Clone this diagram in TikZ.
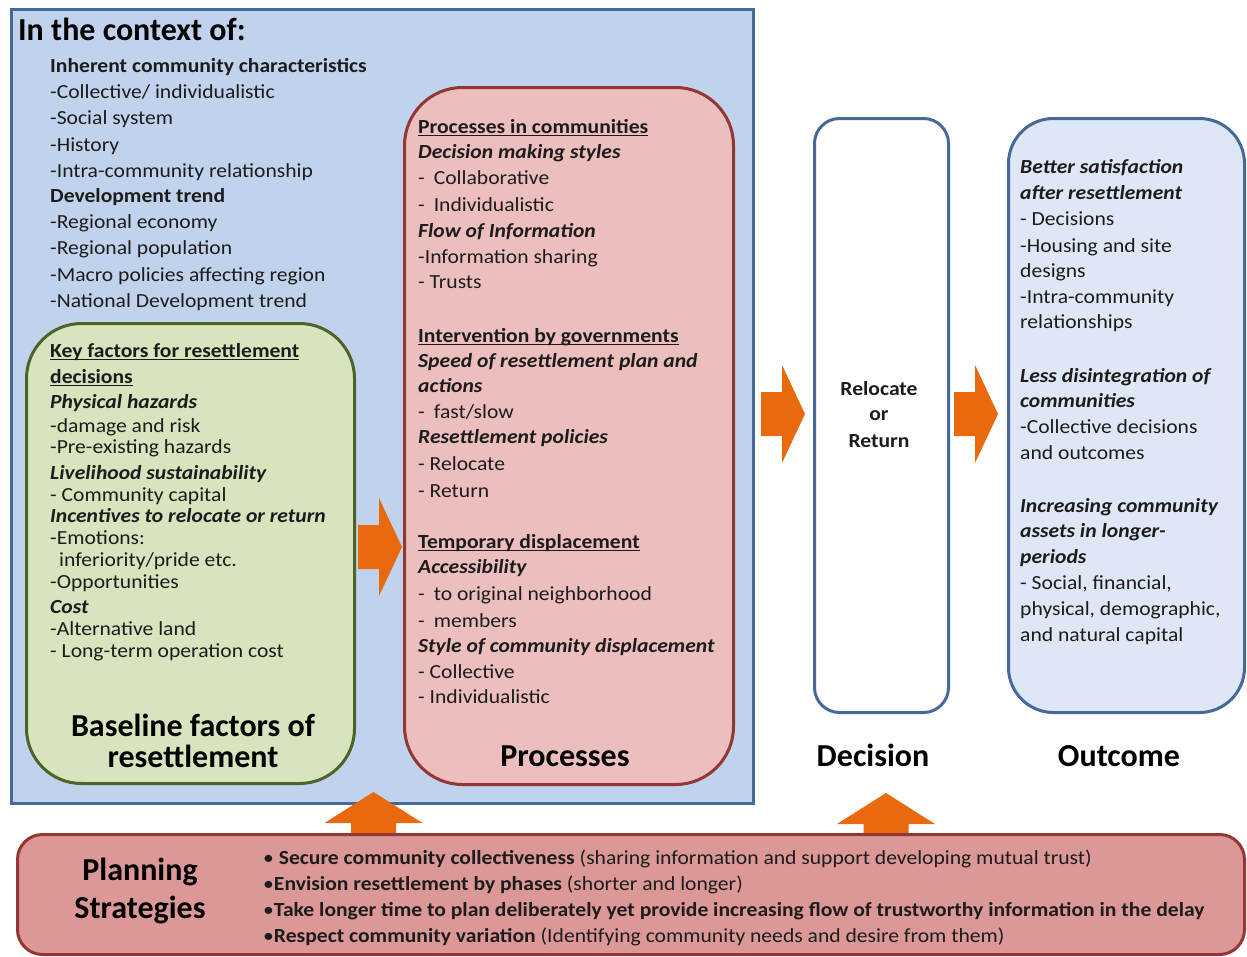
\documentclass[tikz,border=0pt]{standalone}
\usepackage{fontspec}
\setmainfont{Carlito}
% body text is set slightly wider than the headings
\newfontfamily\bodyfont{Carlito}[FakeStretch=1.08]

\definecolor{ctxfill}{RGB}{193,211,236}
\definecolor{frameblue}{RGB}{70,104,154}
\definecolor{greenfill}{RGB}{215,228,189}
\definecolor{greenline}{RGB}{79,98,40}
\definecolor{pinkfill}{RGB}{237,190,190}
\definecolor{redline}{RGB}{148,54,52}
\definecolor{outfill}{RGB}{222,231,245}
\definecolor{planfill}{RGB}{220,152,150}
\definecolor{arroworange}{RGB}{232,106,12}
\definecolor{inkdark}{RGB}{28,28,28}

% bold, bold italic and a heavier underline for headings
\newcommand\bfx[1]{\textbf{#1}}
\newcommand\bix[1]{\textbf{\textit{#1}}}
\newcommand\ulx[1]{\sbox0{\textbf{#1}}\rlap{\rule[-3pt]{\wd0}{1.3pt}}\usebox0}

\tikzset{
  txt/.style={anchor=base west, inner sep=0pt, font=\bodyfont\fontsize{20}{24}\selectfont, text=inkdark},
  big/.style={anchor=base, inner sep=0pt, font=\fontsize{32}{36}\selectfont\bfseries, text=black},
  panel/.style={anchor=north west, inner sep=0pt, line width=3pt},
  rarrow/.pic={\fill[arroworange] (0,-22) -- (21,-22) -- (21,-49) -- (44,0) -- (21,49) -- (21,22) -- (0,22) -- cycle;},
  uarrow/.pic={\fill[arroworange] (0,0) -- (49,31) -- (22.5,31) -- (22.5,44) -- (-22.5,44) -- (-22.5,31) -- (-49,31) -- cycle;}
}

\begin{document}
\begin{tikzpicture}[x=1pt,y=-1pt]
\useasboundingbox (0,0) rectangle (1247,956);

% context frame and inner panels
\node[panel, draw=frameblue, fill=ctxfill, minimum width=742pt, minimum height=794pt] (ctx) at (10,8) {};
\node[panel, draw=greenline, fill=greenfill, rounded corners=55pt, minimum width=328pt, minimum height=460pt] (base) at (25,322) {};
\node[panel, draw=redline, fill=pinkfill, rounded corners=58pt, minimum width=329pt, minimum height=697pt] (proc) at (403,86) {};
\node[panel, draw=frameblue, fill=white, rounded corners=25pt, minimum width=134pt, minimum height=594pt] (dec) at (813,117) {};
\node[panel, draw=frameblue, fill=outfill, rounded corners=45pt, minimum width=236pt, minimum height=594pt] (out) at (1007,117) {};

% block arrows
\pic (a1) at (358,547) {rarrow};
\pic (a2) at (761,414) {rarrow};
\pic (a3) at (954,414) {rarrow};
\pic (u1) at (373.5,792) {uarrow};
\pic (u2) at (886,793) {uarrow};

% planning strategies panel
\node[panel, draw=redline, fill=planfill, rounded corners=25pt, minimum width=1227pt, minimum height=120pt] (plan) at (16,833) {};

% context text
\node[anchor=base west, inner sep=0pt, font=\fontsize{32}{36}\selectfont\bfseries] (ctxtitle) at (18,40) {In the context of:};
\foreach \yy/\tx [count=\n] in {
  72/{\bfx{Inherent community characteristics}},
  98/{-Collective/ individualistic},
  124/{-Social system},
  151/{-History},
  177/{-Intra-community relationship},
  202/{\bfx{Development trend}},
  228/{-Regional economy},
  254/{-Regional population},
  281/{-Macro policies affecting region},
  307/{-National Development trend}}
  \node[txt] (ctxl\n) at (50,\yy) {\tx};

% baseline factors text
\foreach \yy/\tx [count=\n] in {
  357/{\ulx{Key factors for resettlement}},
  383/{\ulx{decisions}},
  408/{\bix{Physical hazards}},
  432/{-damage and risk},
  453/{-Pre-existing hazards},
  479/{\bix{Livelihood sustainability}},
  501/{- Community capital},
  522/{\bix{Incentives to relocate or return}},
  544/{-Emotions:},
  566/{\hspace{9pt}inferiority/pride etc.},
  588/{-Opportunities},
  613/{\bix{Cost}},
  635/{-Alternative land},
  657/{- Long-term operation cost}}
  \node[txt] (basel\n) at (50,\yy) {\tx};
\node[big] (basetitle1) at (193,736) {Baseline factors of};
\node[big] (basetitle2) at (193,767) {resettlement};

% processes text
\foreach \yy/\tx [count=\n] in {
  133/{\ulx{Processes in communities}},
  158/{\bix{Decision making styles}},
  184/{-\hspace{9pt}Collaborative},
  211/{-\hspace{9pt}Individualistic},
  237/{\bix{Flow of Information}},
  263/{-Information sharing},
  288/{- Trusts},
  342/{\ulx{Intervention by governments}},
  367/{\bix{Speed of resettlement plan and}},
  392/{\bix{actions}},
  418/{-\hspace{9pt}fast/slow},
  443/{\bix{Resettlement policies}},
  470/{- Relocate},
  497/{- Return},
  548/{\ulx{Temporary displacement}},
  573/{\bix{Accessibility}},
  600/{-\hspace{9pt}to original neighborhood},
  627/{-\hspace{9pt}members},
  652/{\bix{Style of community displacement}},
  678/{- Collective},
  703/{- Individualistic}}
  \node[txt] (procl\n) at (418,\yy) {\tx};
\node[big] (proctitle) at (565,766) {Processes};

% decision text
\node[txt, anchor=base] (decl1) at (879,395) {\bfx{Relocate}};
\node[txt, anchor=base] (decl2) at (879,420) {\bfx{or}};
\node[txt, anchor=base] (decl3) at (879,447) {\bfx{Return}};
\node[big] (dectitle) at (873,766) {Decision};

% outcome text
\foreach \yy/\tx [count=\n] in {
  173/{\bix{Better satisfaction}},
  199/{\bix{after resettlement}},
  225/{- Decisions},
  252/{-Housing and site},
  277/{designs},
  303/{-Intra-community},
  328/{relationships},
  382/{\bix{Less disintegration of}},
  407/{\bix{communities}},
  433/{-Collective decisions},
  459/{and outcomes},
  512/{\bix{Increasing community}},
  537/{\bix{assets in longer-}},
  563/{\bix{periods}},
  589/{- Social, financial,},
  615/{physical, demographic,},
  641/{and natural capital}}
  \node[txt] (outl\n) at (1020,\yy) {\tx};
\node[big] (outtitle) at (1119,766) {Outcome};

% planning strategies text
\node[big] (plantitle1) at (140,880) {Planning};
\node[big] (plantitle2) at (140,918) {Strategies};
\foreach \yy/\tx [count=\n] in {
  864/{• \bfx{Secure community collectiveness} (sharing information and support developing mutual trust)},
  890/{•\bfx{Envision resettlement by phases} (shorter and longer)},
  916/{•\bfx{Take longer time to plan deliberately yet provide increasing flow of trustworthy information in the delay}},
  942/{•\bfx{Respect community variation} (Identifying community needs and desire from them)}}
  \node[txt] (planl\n) at (263,\yy) {\tx};
\end{tikzpicture}
\end{document}
